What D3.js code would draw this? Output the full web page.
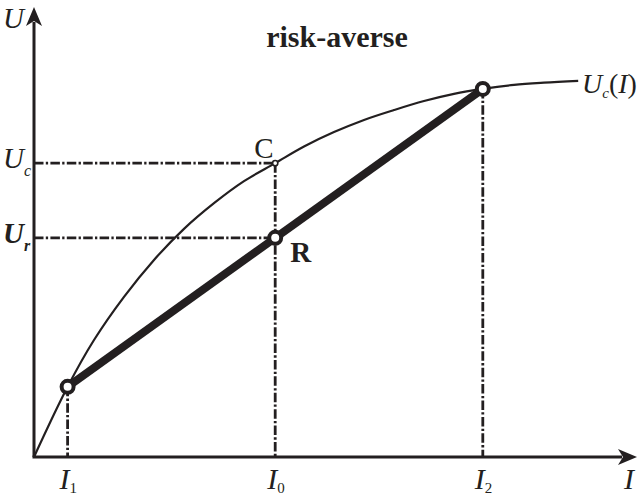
<!DOCTYPE html>
<html>
<head>
<meta charset="utf-8">
<script src="https://cdn.jsdelivr.net/npm/d3@7"></script>
<style>
  html, body { margin: 0; padding: 0; background: #fff; }
  svg { display: block; }
  text { font-family: "Liberation Serif", "Times New Roman", serif; fill: #231f20; }
</style>
</head>
<body>
<svg id="chart" width="637" height="497"></svg>
<script>
// Utility curve U_c(I), sampled points (income I, utility U)
const curveI = [0, 5.6, 10, 15, 20, 25, 30, 35, 40.2, 45, 50, 55, 60, 65, 70, 74.8, 80, 85, 90.7];
const curveU = [0, 15.6, 26.0, 35.6, 43.8, 50.7, 56.4, 61.3, 65.3, 69.0, 72.2, 74.9, 77.1, 79.1, 80.7, 81.8, 82.7, 83.2, 83.6];

// Two outcomes I1, I2 and the expected income I0
const outcomeNames = ["1", "2"];
const outcomeI = [5.6, 74.8];
const outcomeU = [15.6, 81.8];
const expectedI = 40.2;
const certainU = 65.3;   // U_c at I0 (point C)
const riskyU = 48.7;     // expected utility at I0 (point R)

const ink = "#231f20";
const svg = d3.select("#chart");

const x = d3.scaleLinear().domain([0, 100]).range([34, 634]);
const y = d3.scaleLinear().domain([0, 100]).range([457, 7]);

// dash-dot guide lines
const dashDot = "9.5,2.3,2.3,2.3";
const guides = svg.append("g")
  .attr("stroke", ink).attr("stroke-width", 2.8)
  .attr("stroke-dasharray", dashDot).attr("fill", "none");

guides.append("line")
  .attr("x1", x(0)).attr("x2", x(expectedI))
  .attr("y1", y(certainU)).attr("y2", y(certainU));
guides.append("line")
  .attr("x1", x(0)).attr("x2", x(expectedI))
  .attr("y1", y(riskyU)).attr("y2", y(riskyU));
guides.append("line")
  .attr("x1", x(expectedI)).attr("x2", x(expectedI))
  .attr("y1", y(certainU)).attr("y2", y(0));
outcomeI.forEach((v, i) => {
  guides.append("line")
    .attr("x1", x(v)).attr("x2", x(v))
    .attr("y1", y(outcomeU[i])).attr("y2", y(0));
});

// utility curve
const pts = curveI.map((v, i) => [v, curveU[i]]);
svg.append("path")
  .datum(pts)
  .attr("fill", "none")
  .attr("stroke", ink)
  .attr("stroke-width", 2.2)
  .attr("d", d3.line().x(d => x(d[0])).y(d => y(d[1])).curve(d3.curveCatmullRom.alpha(0.5)));

// chord between the two outcomes
svg.append("line")
  .attr("x1", x(outcomeI[0])).attr("y1", y(outcomeU[0]))
  .attr("x2", x(outcomeI[1])).attr("y2", y(outcomeU[1]))
  .attr("stroke", ink).attr("stroke-width", 8);

// axes
svg.append("line")
  .attr("x1", x(0)).attr("y1", y(0)).attr("x2", x(0)).attr("y2", 22)
  .attr("stroke", ink).attr("stroke-width", 3);
svg.append("line")
  .attr("x1", x(0) - 1.5).attr("y1", y(0)).attr("x2", 622).attr("y2", y(0))
  .attr("stroke", ink).attr("stroke-width", 3);
svg.append("path")
  .attr("d", `M${x(0)},7 L${x(0) - 8},26 L${x(0)},21 L${x(0) + 8},26 Z`)
  .attr("fill", ink);
svg.append("path")
  .attr("d", `M637,${y(0)} L618,${y(0) - 8} L623,${y(0)} L618,${y(0) + 8} Z`)
  .attr("fill", ink);

// points
outcomeI.forEach((v, i) => {
  svg.append("circle")
    .attr("cx", x(v)).attr("cy", y(outcomeU[i])).attr("r", 6)
    .attr("fill", "#fff").attr("stroke", ink).attr("stroke-width", 4);
});
svg.append("circle")
  .attr("cx", x(expectedI)).attr("cy", y(riskyU)).attr("r", 6)
  .attr("fill", "#fff").attr("stroke", ink).attr("stroke-width", 4);
svg.append("circle")
  .attr("cx", x(expectedI)).attr("cy", y(certainU)).attr("r", 2.6)
  .attr("fill", "#fff").attr("stroke", ink).attr("stroke-width", 1.6);

// labels
const fs = 29;
svg.append("text").attr("x", 3).attr("y", 28)
  .attr("font-size", fs).attr("font-style", "italic").text("U");

const uc = svg.append("text").attr("x", 3).attr("y", y(certainU) + 5)
  .attr("font-size", fs).attr("font-style", "italic");
uc.append("tspan").text("U");
uc.append("tspan").attr("font-size", 16).attr("dx", 0).attr("dy", 8).text("c");

const ur = svg.append("text").attr("x", 3).attr("y", y(riskyU) + 5)
  .attr("font-size", fs).attr("font-style", "italic").attr("font-weight", "bold");
ur.append("tspan").text("U");
ur.append("tspan").attr("font-size", 16).attr("dx", 0).attr("dy", 8).text("r");

svg.append("text").attr("x", x(expectedI) - 21).attr("y", y(certainU) - 5)
  .attr("font-size", fs).text("C");
svg.append("text").attr("x", x(expectedI) + 15).attr("y", y(riskyU) + 24)
  .attr("font-size", fs).attr("font-weight", "bold").text("R");

svg.append("text").attr("x", 337).attr("y", 47).attr("text-anchor", "middle")
  .attr("font-size", 30).attr("font-weight", "bold").text("risk-averse");

const lab = svg.append("text").attr("x", 582).attr("y", 93)
  .attr("font-size", 28).attr("font-style", "italic");
lab.append("tspan").text("U");
lab.append("tspan").attr("font-size", 15).attr("dx", 0).attr("dy", 5).text("c");
lab.append("tspan").attr("dy", -5).attr("font-style", "normal").text("(");
lab.append("tspan").text("I");
lab.append("tspan").attr("font-style", "normal").text(")");

// income tick labels under the axis
function incomeLabel(xv, sub) {
  const t = svg.append("text").attr("x", x(xv) - 8).attr("y", 489)
    .attr("font-size", 30).attr("font-style", "italic");
  t.append("tspan").text("I");
  t.append("tspan").attr("font-size", 15).attr("font-style", "normal").attr("dy", 4).text(sub);
}
incomeLabel(outcomeI[0], outcomeNames[0]);
incomeLabel(expectedI, "0");
incomeLabel(outcomeI[1], outcomeNames[1]);

svg.append("text").attr("x", 624).attr("y", 489)
  .attr("font-size", 30).attr("font-style", "italic").text("I");
</script>
</body>
</html>
